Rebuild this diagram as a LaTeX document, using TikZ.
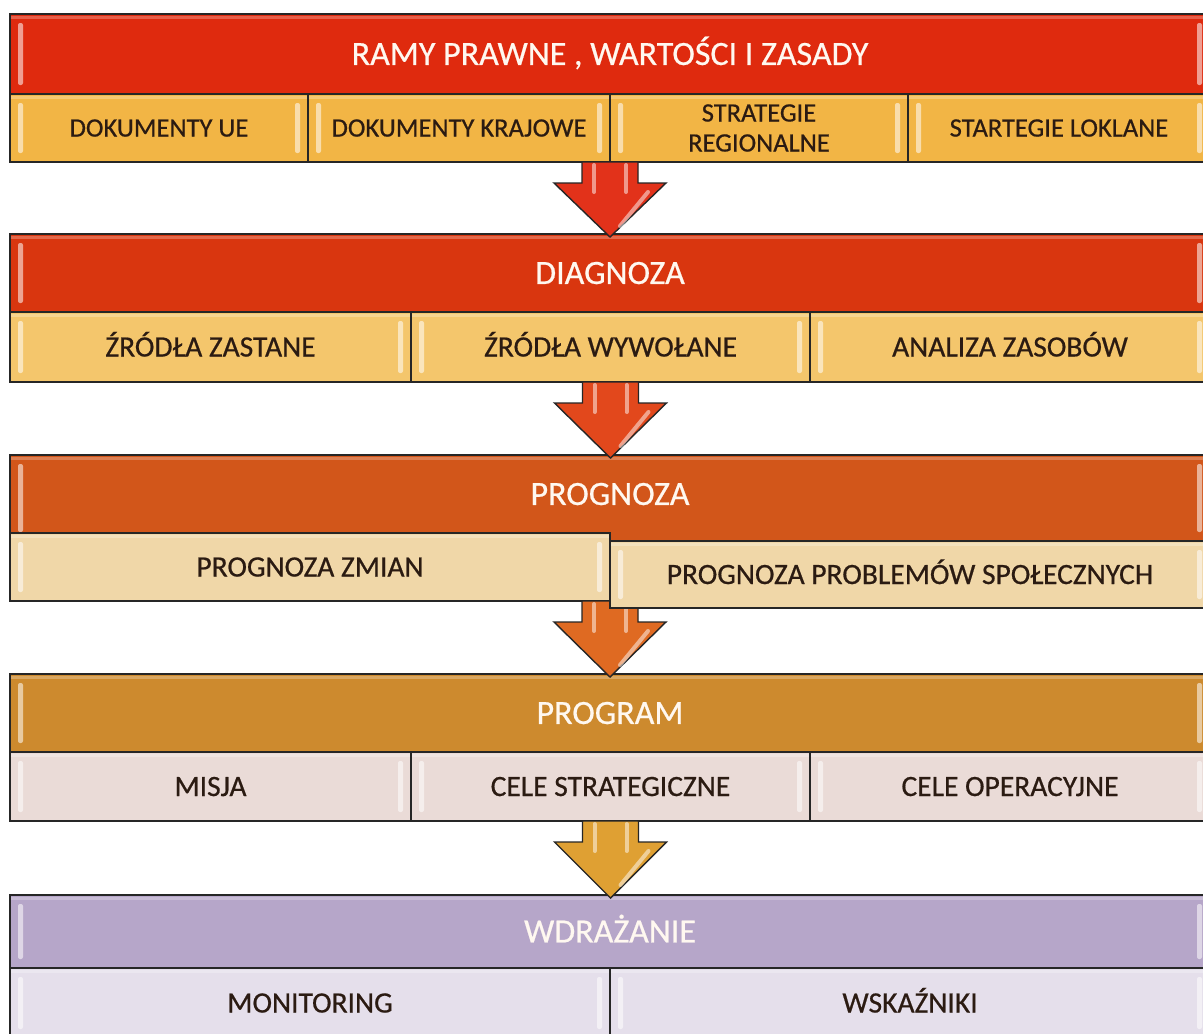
\documentclass[tikz,border=0pt]{standalone}
\usepackage{fontspec}
\setmainfont{Carlito}
\newfontfamily\cellfont{Carlito}[FakeBold=0.6]
\usetikzlibrary{calc}
\definecolor{hA}{HTML}{DF2A0E}
\definecolor{sA}{HTML}{F2B545}
\definecolor{hB}{HTML}{D9360F}
\definecolor{sB}{HTML}{F4C66C}
\definecolor{hC}{HTML}{D2561A}
\definecolor{sC}{HTML}{F0D7A8}
\definecolor{hD}{HTML}{CD8A2E}
\definecolor{sD}{HTML}{EADBD7}
\definecolor{hE}{HTML}{B6A6C9}
\definecolor{sE}{HTML}{E5DFEB}
\definecolor{aA}{HTML}{E2321A}
\definecolor{aB}{HTML}{E2481C}
\definecolor{aC}{HTML}{DF6A22}
\definecolor{aD}{HTML}{DFA033}
\definecolor{subtext}{HTML}{2B1B12}
\definecolor{hdrtext}{HTML}{FFF8F0}
\tikzset{
  bevel/.style={path picture={
    \fill[white, opacity=0.55, rounded corners=2pt]
      ($(path picture bounding box.north west)+(8pt,-9pt)$) rectangle ($(path picture bounding box.south west)+(13pt,9pt)$);
    \fill[white, opacity=0.55, rounded corners=2pt]
      ($(path picture bounding box.north east)+(-13pt,-9pt)$) rectangle ($(path picture bounding box.south east)+(-8pt,9pt)$);
    \fill[white, opacity=0.25]
      ($(path picture bounding box.north west)+(0pt,-1.5pt)$) rectangle ($(path picture bounding box.north east)+(0pt,-4.5pt)$);
  }},
  cellbox/.style={draw=black!85, line width=1.4pt, inner sep=0pt, outer sep=0pt, align=center, bevel},
  hdr/.style={cellbox, text=hdrtext, font=\cellfont\fontsize{34}{38}\selectfont, text height=21.9pt, text depth=0pt},
  sub/.style={cellbox, text=subtext, font=\cellfont\fontsize{29.5}{32}\selectfont, text height=19pt, text depth=0pt},
  subsmall/.style={cellbox, text=subtext, font=\cellfont\fontsize{26.5}{30}\selectfont, text height=17.1pt, text depth=0pt},
  subtwo/.style={cellbox, text=subtext, font=\cellfont\fontsize{26.5}{30}\selectfont},
  arrowline/.style={draw=black!85, line width=1.4pt, line join=miter},
  gloss/.style={draw=white, opacity=0.5, line width=4pt, line cap=round},
}
\newcommand\flowarrow[3]{%
  \coordinate (aS) at (#1);
  \coordinate (aT) at ($(#1 |- #2)+(0,3)$);
  \filldraw[arrowline, fill=#3] ($(aS)+(-28,0)$) -- ($(aS)+(-28,21)$) -- ($(aS)+(-56,21)$) -- (aT)
    -- ($(aS)+(56,21)$) -- ($(aS)+(28,21)$) -- ($(aS)+(28,0)$) -- cycle;
  \draw[gloss] ($(aS)+(-16,3)$) -- ($(aS)+(-16,30)$);
  \draw[gloss] ($(aS)+(16,3)$) -- ($(aS)+(16,30)$);
  \draw[gloss] ($(aS)+(38,30)$) -- ($(aS)+(10,64)$);
}
\begin{document}
\begin{tikzpicture}[x=1pt, y=-1pt]
\useasboundingbox (0,0) rectangle (1203,1034);
\clip (0,0) rectangle (1203,1034);
\fill[white] (0,0) rectangle (1203,1034);
% block 1
\node[hdr, fill=hA, minimum width=1200pt, minimum height=80pt] (h1) at (610,54) {RAMY PRAWNE , WARTOŚCI I ZASADY};
\node[subsmall, fill=sA, minimum width=298pt, minimum height=68pt] (b1a) at (159,128) {DOKUMENTY UE};
\node[subsmall, fill=sA, minimum width=302pt, minimum height=68pt] (b1b) at (459,128) {DOKUMENTY KRAJOWE};
\node[subtwo, fill=sA, minimum width=298pt, minimum height=68pt] (b1c) at (759,128) {STRATEGIE\\REGIONALNE};
\node[subsmall, fill=sA, minimum width=302pt, minimum height=68pt] (b1d) at (1059,128) {STARTEGIE LOKLANE};
% block 2
\node[hdr, fill=hB, minimum width=1200pt, minimum height=78pt] (h2) at (610,273) {DIAGNOZA};
\node[sub, fill=sB, minimum width=401pt, minimum height=70pt] (b2a) at (210.5,347) {ŹRÓDŁA ZASTANE};
\node[sub, fill=sB, minimum width=399pt, minimum height=70pt] (b2b) at (610.5,347) {ŹRÓDŁA WYWOŁANE};
\node[sub, fill=sB, minimum width=400pt, minimum height=70pt] (b2c) at (1010,347) {ANALIZA ZASOBÓW};
% block 3
\node[hdr, fill=hC, minimum width=1200pt, minimum height=86pt] (h3) at (610,498) {\raisebox{4pt}{PROGNOZA}};
\node[sub, fill=sC, minimum width=600pt, minimum height=68pt] (b3a) at (310,567) {PROGNOZA ZMIAN};
% block 4
\node[hdr, fill=hD, minimum width=1200pt, minimum height=78pt] (h4) at (610,713) {PROGRAM};
\node[sub, fill=sD, minimum width=401pt, minimum height=69pt] (b4a) at (210.5,786.5) {MISJA};
\node[sub, fill=sD, minimum width=399pt, minimum height=69pt] (b4b) at (610.5,786.5) {CELE STRATEGICZNE};
\node[sub, fill=sD, minimum width=400pt, minimum height=69pt] (b4c) at (1010,786.5) {CELE OPERACYJNE};
% block 5
\node[hdr, fill=hE, minimum width=1200pt, minimum height=73pt] (h5) at (610,931.5) {WDRAŻANIE};
\node[sub, fill=sE, minimum width=600pt, minimum height=70pt] (b5a) at (310,1003) {MONITORING};
\node[sub, fill=sE, minimum width=600pt, minimum height=70pt] (b5b) at (910,1003) {WSKAŹNIKI};
% arrows
\flowarrow{b1c.south west}{h2.north}{aA}
\flowarrow{b2b.south}{h3.north}{aB}
\flowarrow{b3a.south east}{h4.north}{aC}
\flowarrow{b4b.south}{h5.north}{aD}
% offset right cell of block 3, drawn last so it covers the arrow shaft
\node[sub, fill=sC, minimum width=600pt, minimum height=67pt] (b3b) at (910,574.5) {PROGNOZA PROBLEMÓW SPOŁECZNYCH};
\end{tikzpicture}
\end{document}
